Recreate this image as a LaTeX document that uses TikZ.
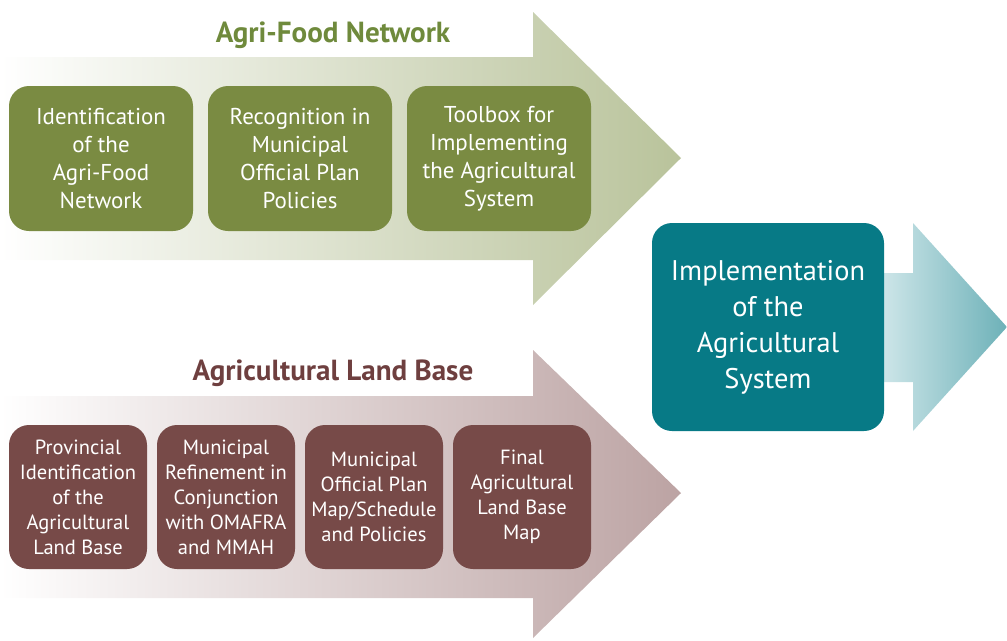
\documentclass[tikz,border=0pt]{standalone}
\usepackage{fontspec}
\setmainfont{PT Sans}
\definecolor{gbox}{HTML}{7A8B42}
\definecolor{gtitle}{HTML}{6F8A3C}
\definecolor{garrow}{HTML}{B9C39B}
\definecolor{bbox}{HTML}{774A48}
\definecolor{btitle}{HTML}{6E3F3F}
\definecolor{barrow}{HTML}{BCA3A3}
\definecolor{tbox}{HTML}{077A86}
\definecolor{tarrowl}{HTML}{CCE5E8}
\definecolor{tarrowr}{HTML}{6DB1B8}
\tikzset{
  gstep/.style={fill=gbox, rounded corners=15, text=white, align=center,
    minimum width=184*0.75pt, minimum height=145*0.75pt, inner sep=0pt,
    font=\fontsize{17.2}{21}\selectfont},
  bstep/.style={fill=bbox, rounded corners=15, text=white, align=center,
    minimum width=138*0.75pt, minimum height=144*0.75pt, inner sep=0pt,
    font=\fontsize{15.4}{18.8}\selectfont},
  tstep/.style={fill=tbox, rounded corners=15, text=white, align=center,
    minimum width=232*0.75pt, minimum height=208*0.75pt, inner sep=0pt,
    font=\fontsize{21.3}{27}\selectfont},
  atitle/.style={font=\bfseries\fontsize{21.8}{24}\selectfont}
}
\begin{document}
\begin{tikzpicture}[x=0.75pt,y=-0.75pt]
\useasboundingbox (0,0) rectangle (1007,640);
% top arrow
\shade[left color=white, right color=garrow]
  (0,57) -- (533,57) -- (533,12) -- (681,158) -- (533,305) -- (533,260) -- (0,260) -- cycle;
% bottom arrow
\shade[left color=white, right color=barrow]
  (0,396) -- (533,396) -- (533,350) -- (681,493) -- (533,638) -- (533,598) -- (0,598) -- cycle;
% right arrow
\shade[left color=tarrowl, right color=tarrowr]
  (884,273) -- (913,273) -- (913,223) -- (1007,327) -- (913,431) -- (913,382) -- (884,382) -- cycle;

\node[atitle, text=gtitle] (t1) at (333,35) {Agri-Food Network};
\node[atitle, text=btitle] (t2) at (333,373) {Agricultural Land Base};

\node[gstep] (g1) at (101,158.5) {Identification\\of the\\Agri-Food\\Network};
\node[gstep] (g2) at (300,158.5) {Recognition in\\Municipal\\Official Plan\\Policies};
\node[gstep] (g3) at (499,158.5) {Toolbox for\\Implementing\\the Agricultural\\System};

\node[bstep] (b1) at (78,497) {Provincial\\Identification\\of the\\Agricultural\\Land Base};
\node[bstep] (b2) at (226,497) {Municipal\\Refinement in\\Conjunction\\with OMAFRA\\and MMAH};
\node[bstep] (b3) at (374,497) {Municipal\\Official Plan\\Map/Schedule\\and Policies};
\node[bstep] (b4) at (522,497) {Final\\Agricultural\\Land Base\\Map};

\node[tstep] (imp) at (768,327) {Implementation\\of the\\Agricultural\\System};
\end{tikzpicture}
\end{document}
